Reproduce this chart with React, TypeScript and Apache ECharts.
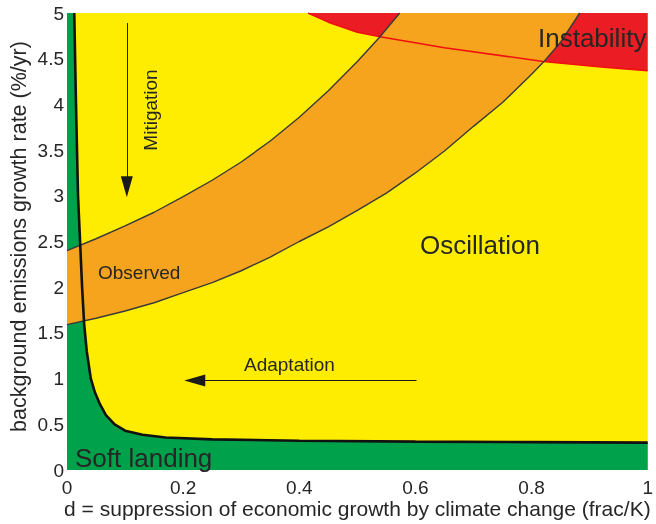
import React, { useEffect, useRef } from "react";
import * as echarts from "echarts";

// ---- data ----
const xTickInterval = 0.2;
const yTickInterval = 0.5;

// black boundary of the "Soft landing" region
const softLandingBoundary: number[][] = [
  [0.0125, 5.0], [0.0155, 4.0], [0.019, 3.0], [0.0225, 2.5], [0.026, 2.0],
  [0.0295, 1.6], [0.034, 1.3], [0.041, 1.0], [0.048, 0.85], [0.056, 0.73],
  [0.067, 0.6], [0.082, 0.5], [0.1, 0.43], [0.13, 0.385], [0.17, 0.355],
  [0.25, 0.335], [0.4, 0.32], [0.6, 0.31], [0.8, 0.305], [1.0, 0.3],
];

// "Observed" band edges
const observedUpper: number[][] = [
  [0, 2.4], [0.05, 2.53], [0.1, 2.67], [0.15, 2.82], [0.2, 2.99],
  [0.25, 3.17], [0.3, 3.37], [0.35, 3.6], [0.4, 3.86], [0.45, 4.15],
  [0.5, 4.47], [0.539, 4.74], [0.573, 5.0],
];
const observedLower: number[][] = [
  [0, 1.59], [0.05, 1.66], [0.1, 1.74], [0.15, 1.83], [0.2, 1.94],
  [0.25, 2.05], [0.3, 2.18], [0.35, 2.33], [0.4, 2.5], [0.45, 2.66],
  [0.5, 2.84], [0.55, 3.03], [0.6, 3.25], [0.65, 3.49], [0.7, 3.76],
  [0.75, 4.02], [0.8, 4.33], [0.823, 4.48], [0.85, 4.68], [0.883, 5.0],
];

// lower edge of the "Instability" region
const instabilityBoundary: number[][] = [
  [0.415, 5.0], [0.45, 4.9], [0.5, 4.79], [0.539, 4.74], [0.65, 4.62],
  [0.82, 4.47], [0.92, 4.41], [1.0, 4.37],
];

// arrows (start, end)
const mitigationArrow: number[][] = [[0.103, 4.89], [0.103, 3.1]];
const adaptationArrow: number[][] = [[0.602, 0.98], [0.22, 0.98]];

const TEXT = "#262626";
const FONT = "'Liberation Sans', Arial, Helvetica, sans-serif";

function polySeries(points: number[][], color: string) {
  return {
    type: "custom",
    coordinateSystem: "cartesian2d",
    silent: true,
    data: [[0, 0]],
    renderItem: (_params: any, api: any) => ({
      type: "polygon",
      shape: { points: points.map((p) => api.coord(p)) },
      style: { fill: color },
    }),
  };
}

export default function App() {
  const ref = useRef<HTMLDivElement>(null);
  useEffect(() => {
    if (!ref.current) return;
    const chart = echarts.init(ref.current, null, { renderer: "svg" });

    const greenPoly = [[0, 0], [0, 5], ...softLandingBoundary, [1, 0]];
    const redPoly = [...instabilityBoundary, [1, 5]];
    const orangePoly = [...observedLower, ...observedUpper.slice().reverse()];

    const label = (text: string, x: number, y: number, size: number, extra: any = {}) => ({
      type: "text",
      x,
      y,
      z: 100,
      silent: true,
      ...extra,
      style: {
        text,
        fill: TEXT,
        font: `${size}px ${FONT}`,
        align: extra.align || "left",
        verticalAlign: "middle",
      },
    });

    chart.setOption({
      animation: false,
      grid: {
        left: 66,
        right: 2,
        top: 13,
        bottom: 51,
        show: true,
        backgroundColor: "#FFED00",
        borderWidth: 0,
      },
      xAxis: {
        type: "value",
        min: 0,
        max: 1,
        interval: xTickInterval,
        name: "d = suppression of economic growth by climate change (frac/K)",
        nameLocation: "middle",
        nameGap: 28,
        nameMoveOverlap: false,
        nameTextStyle: { fontSize: 21, color: TEXT, fontFamily: FONT },
        axisLine: { show: false },
        axisTick: { show: false },
        splitLine: { show: false },
        axisLabel: { fontSize: 19, color: TEXT, fontFamily: FONT, margin: 8 },
      },
      yAxis: {
        type: "value",
        min: 0,
        max: 5,
        interval: yTickInterval,
        name: "background emissions growth rate (%/yr)",
        nameLocation: "middle",
        nameGap: 37,
        nameMoveOverlap: false,
        nameTextStyle: { fontSize: 21.5, color: TEXT, fontFamily: FONT, padding: [0, 0, 0, 10] },
        axisLine: { show: false },
        axisTick: { show: false },
        splitLine: { show: false },
        axisLabel: { fontSize: 19, color: TEXT, fontFamily: FONT, margin: 3 },
      },
      series: [
        polySeries(greenPoly, "#00A14B"),
        polySeries(redPoly, "#EC1C24"),
        polySeries(orangePoly, "#F6A31E"),
        {
          type: "line",
          data: instabilityBoundary,
          symbol: "none",
          silent: true,
          lineStyle: { color: "#F01010", width: 1.6 },
        },
        {
          type: "line",
          data: observedUpper,
          symbol: "none",
          silent: true,
          lineStyle: { color: "#3a3a3a", width: 1.4 },
        },
        {
          type: "line",
          data: observedLower,
          symbol: "none",
          silent: true,
          lineStyle: { color: "#3a3a3a", width: 1.4 },
        },
        {
          type: "line",
          data: softLandingBoundary,
          symbol: "none",
          silent: true,
          lineStyle: { color: "#111111", width: 2.6 },
          markLine: {
            silent: true,
            symbol: ["none", "triangle"],
            symbolSize: [12, 21],
            label: { show: false },
            emphasis: { disabled: true },
            lineStyle: { color: "#1a1a1a", width: 1, type: "solid", opacity: 1 },
            itemStyle: { color: "#111111" },
            data: [
              [{ coord: mitigationArrow[0] }, { coord: mitigationArrow[1] }],
              [{ coord: adaptationArrow[0] }, { coord: adaptationArrow[1] }],
            ],
          },
        },
      ],
      graphic: [
        label("Instability", 538, 38, 26),
        label("Oscillation", 420, 245, 26),
        label("Soft landing", 75, 458, 26),
        label("Observed", 98, 272, 19),
        label("Adaptation", 244, 364, 19),
        label("Mitigation", 150, 110, 19, { rotation: Math.PI / 2, align: "center" }),
      ],
    });
    return () => chart.dispose();
  }, []);
  return (
    <div
      ref={ref}
      style={{ position: "fixed", left: 0, top: 0, width: 656, height: 524 }}
    />
  );
}
